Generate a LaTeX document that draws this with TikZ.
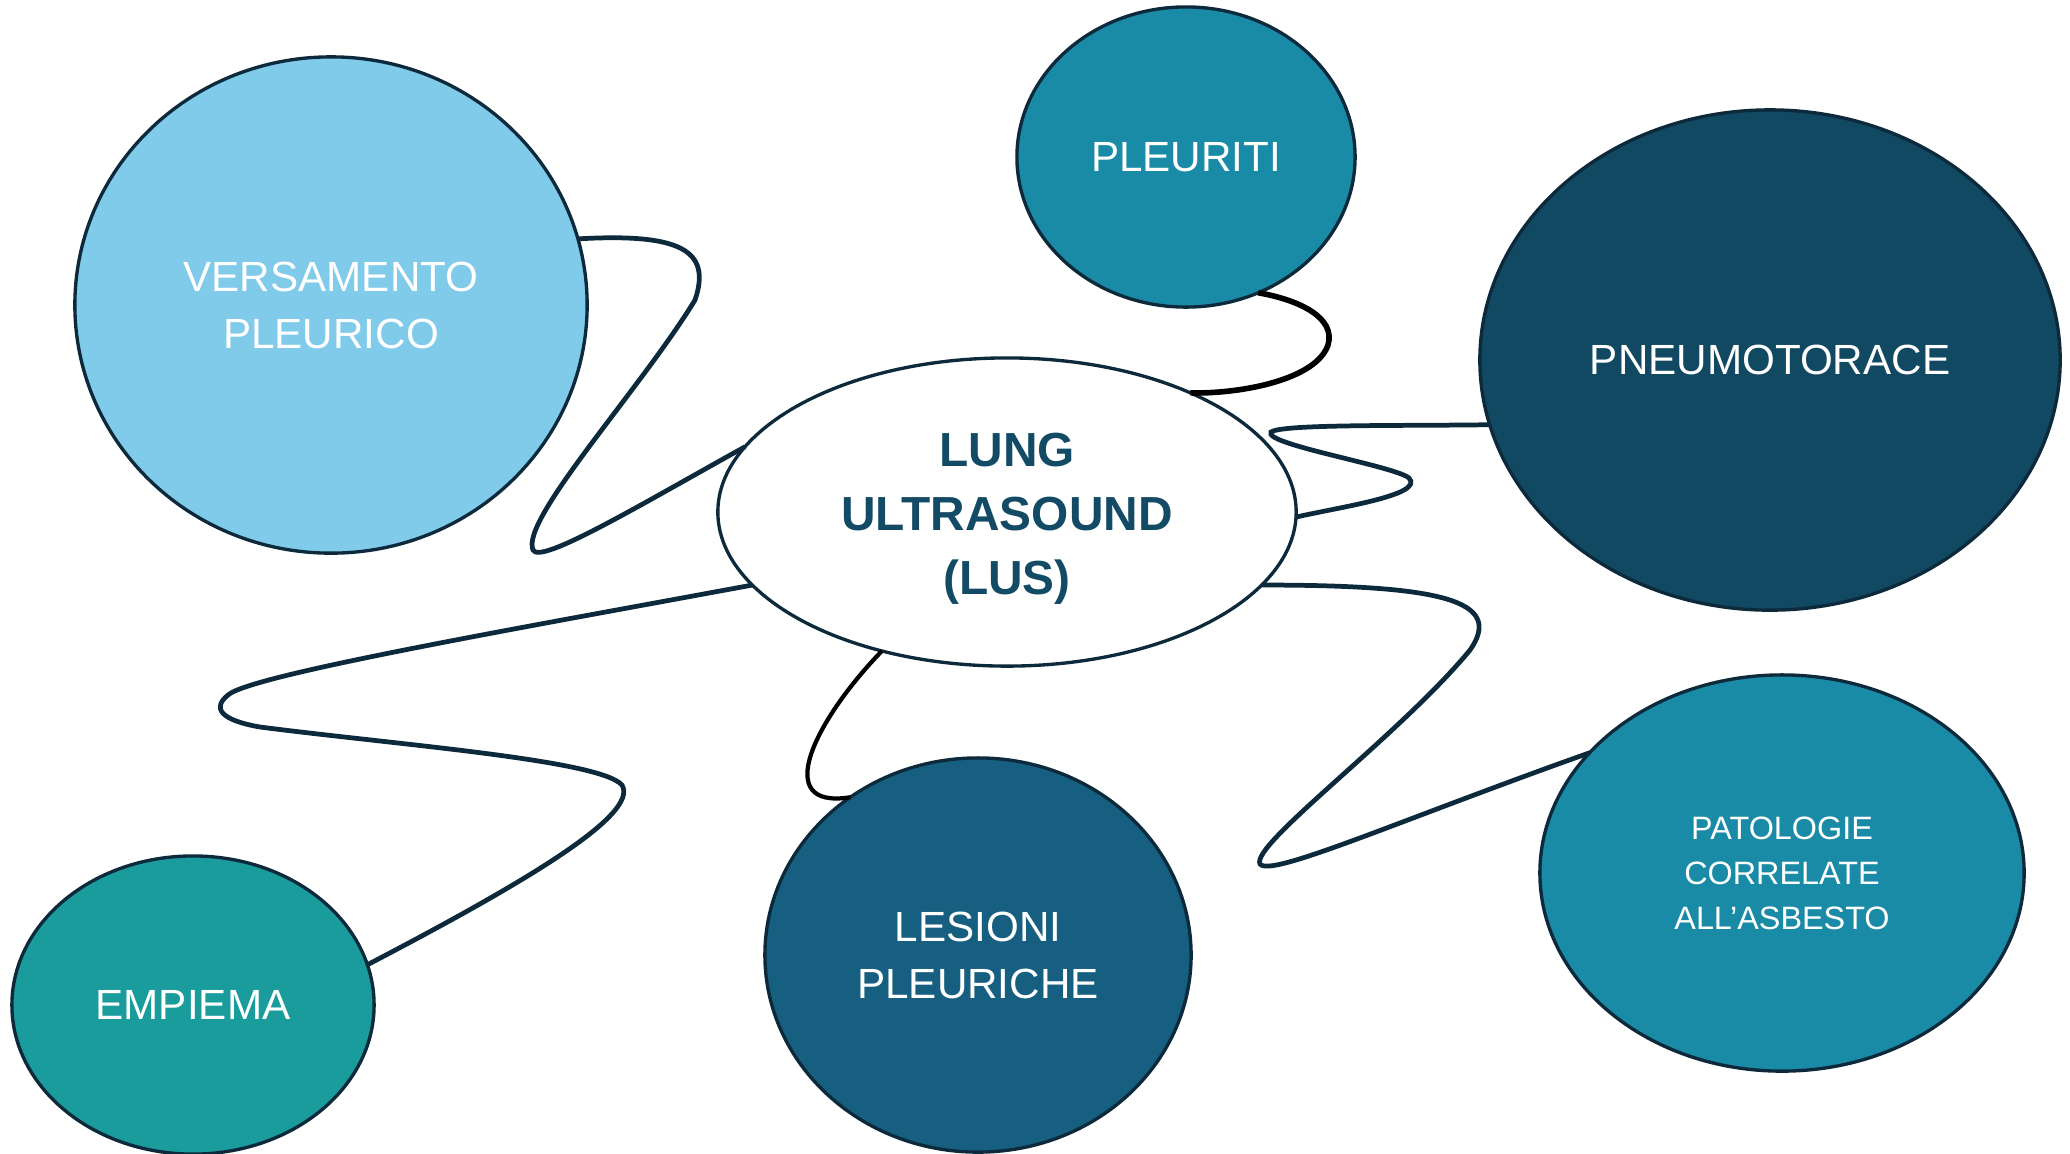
\documentclass[tikz,border=0pt]{standalone}
\usepackage{fontspec}
\setmainfont{Liberation Sans}
\usetikzlibrary{shapes.geometric}
\definecolor{cVers}{HTML}{80CAEA}
\definecolor{cPleu}{HTML}{1A8BA6}
\definecolor{cPneu}{HTML}{114862}
\definecolor{cLes}{HTML}{175F80}
\definecolor{cEmp}{HTML}{1A9C9D}
\definecolor{edge}{HTML}{0C2A3B}
\definecolor{lustext}{HTML}{134B66}
\begin{document}
\begin{tikzpicture}[x=0.01cm,y=-0.01cm,
  bubble/.style={ellipse,draw=edge,line width=0.95pt,inner sep=0pt,outer sep=0pt,
    align=center,text=white,font=\fontsize{12}{16.2}\selectfont},
  link/.style={draw=edge,line width=1.35pt},
  blacklink/.style={draw=black,line width=1.6pt}]
\useasboundingbox (0,0) rectangle (2070,1153);
\node[bubble,fill=cVers,minimum width=5.12cm,minimum height=4.96cm] (vers) at (331,305) {VERSAMENTO\\PLEURICO};
\node[bubble,fill=cPleu,minimum width=3.38cm,minimum height=3.00cm] (pleu) at (1186,157) {PLEURITI};
\node[bubble,fill=cPneu,minimum width=5.80cm,minimum height=5.00cm] (pn) at (1770,360) {PNEUMOTORACE};
\node[bubble,fill=white,minimum width=5.78cm,minimum height=3.08cm] (lus) at (1007,512) {};
\node[text=lustext,font=\fontsize{13.6}{18.2}\selectfont\bfseries,align=center,inner sep=0pt] (lustxt) at (1007,519) {LUNG\\ULTRASOUND\\(LUS)};
\node[bubble,fill=cPleu,font=\fontsize{9.2}{12.8}\selectfont,minimum width=4.84cm,minimum height=3.96cm] (pat) at (1782,873) {PATOLOGIE\\CORRELATE\\ALL’ASBESTO};
\node[bubble,fill=cLes,minimum width=4.26cm,minimum height=3.94cm] (les) at (978,955) {LESIONI\\PLEURICHE};
\node[bubble,fill=cEmp,minimum width=3.62cm,minimum height=2.98cm] (emp) at (193,1005) {EMPIEMA};

\draw[link] (vers.15.6) .. controls (680,233) and (712,250) .. (695,300)
  .. controls (640,390) and (520,520) .. (533,550)
  .. controls (540,565) and (640,505) .. (lus.166.6);
\draw[blacklink] (pleu.-62) .. controls (1300,300) and (1336,318) .. (1328,345)
  .. controls (1316,380) and (1240,394) .. (lus.33.5);
\draw[link] (pn.193.4) .. controls (1400,426) and (1282,424) .. (1271,432)
  .. controls (1262,444) and (1395,466) .. (1409,478)
  .. controls (1425,495) and (1340,507) .. (lus.-1);
\draw[link] (lus.-16) .. controls (1440,585) and (1505,600) .. (1470,650)
  .. controls (1400,735) and (1250,845) .. (1260,864)
  .. controls (1270,878) and (1400,820) .. (pat.148.8);
\draw[blacklink,line width=1.2pt] (lus.228.6) .. controls (815,720) and (770,810) .. (les.129.8);
\draw[link] (lus.196.4) .. controls (520,628) and (250,675) .. (228,695)
  .. controls (212,708) and (220,720) .. (260,727)
  .. controls (400,745) and (600,760) .. (622,785)
  .. controls (640,815) and (520,885) .. (emp.13.3);
\end{tikzpicture}
\end{document}
